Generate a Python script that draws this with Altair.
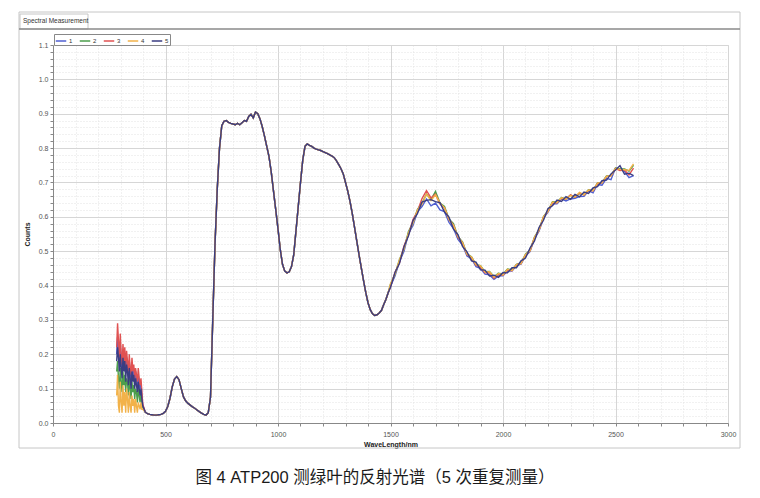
import altair as alt
import pandas as pd

series_names = ["1", "2", "3", "4", "5"]
series_colors = ["#4f5fd2", "#4c9e4c", "#e05252", "#f2b24a", "#3a3d82"]

# wavelength grids (nm)
uv_wl = list(range(283, 400, 4))
mid_wl = list(range(410, 1500, 10))
nir_wl = list(range(1500, 2600, 20))

# noisy UV part, one list per measurement
uv_1 = [0.20, 0.25, 0.22, 0.18, 0.23, 0.19, 0.16, 0.21, 0.17, 0.20, 0.15, 0.19, 0.17, 0.14, 0.18,
        0.15, 0.13, 0.17, 0.14, 0.16, 0.12, 0.15, 0.13, 0.11, 0.14, 0.12, 0.10, 0.12, 0.08, 0.05]
uv_2 = [0.15, 0.18, 0.13, 0.10, 0.16, 0.12, 0.09, 0.15, 0.11, 0.14, 0.09, 0.13, 0.12, 0.08, 0.13,
        0.10, 0.07, 0.12, 0.09, 0.11, 0.07, 0.10, 0.09, 0.06, 0.10, 0.08, 0.06, 0.09, 0.06, 0.045]
uv_3 = [0.22, 0.29, 0.24, 0.19, 0.26, 0.20, 0.17, 0.23, 0.18, 0.22, 0.16, 0.21, 0.18, 0.15, 0.20,
        0.16, 0.14, 0.19, 0.15, 0.17, 0.13, 0.16, 0.14, 0.12, 0.16, 0.13, 0.11, 0.13, 0.09, 0.055]
uv_4 = [0.08, 0.14, 0.05, 0.03, 0.12, 0.06, 0.03, 0.11, 0.05, 0.09, 0.03, 0.10, 0.07, 0.03, 0.09,
        0.05, 0.03, 0.08, 0.05, 0.07, 0.03, 0.07, 0.05, 0.03, 0.06, 0.05, 0.04, 0.06, 0.04, 0.04]
uv_5 = [0.18, 0.22, 0.19, 0.15, 0.20, 0.16, 0.13, 0.19, 0.15, 0.18, 0.12, 0.17, 0.15, 0.11, 0.16,
        0.13, 0.10, 0.15, 0.12, 0.14, 0.10, 0.13, 0.11, 0.09, 0.12, 0.10, 0.08, 0.10, 0.07, 0.05]

# visible / NIR part where the five measurements coincide (410..1490 nm)
mid_vals = [
    0.032, 0.027, 0.025, 0.024, 0.023, 0.023, 0.024, 0.025, 0.028, 0.034,
    0.048, 0.072, 0.105, 0.128, 0.135, 0.126, 0.100, 0.076, 0.064, 0.057,
    0.052, 0.047, 0.043, 0.038, 0.033, 0.029, 0.025, 0.023, 0.030, 0.075,
    0.300, 0.520, 0.680, 0.800, 0.865, 0.878, 0.880, 0.875, 0.872, 0.870,
    0.868, 0.872, 0.868, 0.874, 0.880, 0.878, 0.892, 0.898, 0.888, 0.905,
    0.900, 0.885, 0.862, 0.835, 0.805, 0.775, 0.730, 0.675, 0.620, 0.565,
    0.505, 0.462, 0.442, 0.437, 0.440, 0.455, 0.490, 0.560, 0.630, 0.700,
    0.765, 0.805, 0.812, 0.808, 0.805, 0.800, 0.797, 0.795, 0.793, 0.790,
    0.787, 0.784, 0.780, 0.777, 0.772, 0.763, 0.752, 0.740, 0.725, 0.700,
    0.675, 0.645, 0.610, 0.570, 0.530, 0.490, 0.452, 0.415, 0.380, 0.350,
    0.330, 0.318, 0.313, 0.315, 0.320, 0.328, 0.345, 0.360, 0.380,
]

# SWIR part (1500..2580 nm), one list per measurement
nir_1 = [0.398, 0.428, 0.470, 0.500, 0.552, 0.575, 0.615, 0.630, 0.652, 0.632, 0.640, 0.620, 0.615, 0.584,
         0.566, 0.534, 0.518, 0.486, 0.478, 0.455, 0.450, 0.433, 0.431, 0.418, 0.428, 0.428, 0.443, 0.442,
         0.458, 0.462, 0.486, 0.499, 0.536, 0.558, 0.596, 0.614, 0.638, 0.638, 0.652, 0.646, 0.652, 0.654,
         0.659, 0.660, 0.676, 0.670, 0.694, 0.692, 0.712, 0.708, 0.742, 0.738, 0.732, 0.714, 0.720]
nir_2 = [0.404, 0.433, 0.476, 0.507, 0.557, 0.583, 0.622, 0.640, 0.666, 0.650, 0.674, 0.640, 0.630, 0.594,
         0.580, 0.542, 0.527, 0.492, 0.484, 0.461, 0.458, 0.440, 0.441, 0.426, 0.436, 0.433, 0.448, 0.446,
         0.462, 0.466, 0.491, 0.503, 0.541, 0.563, 0.601, 0.618, 0.644, 0.643, 0.656, 0.652, 0.663, 0.657,
         0.668, 0.665, 0.679, 0.677, 0.699, 0.700, 0.719, 0.720, 0.742, 0.740, 0.739, 0.733, 0.750]
nir_3 = [0.396, 0.439, 0.466, 0.515, 0.548, 0.592, 0.616, 0.653, 0.676, 0.655, 0.666, 0.637, 0.626, 0.592,
         0.576, 0.540, 0.524, 0.490, 0.481, 0.459, 0.454, 0.437, 0.438, 0.421, 0.433, 0.430, 0.445, 0.443,
         0.461, 0.464, 0.489, 0.501, 0.539, 0.561, 0.599, 0.616, 0.641, 0.641, 0.654, 0.651, 0.664, 0.657,
         0.669, 0.664, 0.677, 0.676, 0.697, 0.699, 0.717, 0.719, 0.740, 0.735, 0.736, 0.722, 0.742]
nir_4 = [0.405, 0.433, 0.475, 0.506, 0.554, 0.581, 0.620, 0.637, 0.666, 0.647, 0.664, 0.640, 0.626, 0.592,
         0.575, 0.542, 0.525, 0.491, 0.483, 0.461, 0.457, 0.439, 0.440, 0.424, 0.435, 0.431, 0.447, 0.444,
         0.461, 0.464, 0.490, 0.501, 0.540, 0.561, 0.600, 0.616, 0.643, 0.641, 0.655, 0.651, 0.662, 0.658,
         0.671, 0.664, 0.678, 0.676, 0.698, 0.699, 0.718, 0.719, 0.741, 0.738, 0.737, 0.735, 0.754]
nir_5 = [0.395, 0.438, 0.465, 0.513, 0.545, 0.589, 0.610, 0.643, 0.648, 0.650, 0.644, 0.641, 0.614, 0.599,
         0.564, 0.548, 0.514, 0.498, 0.472, 0.468, 0.446, 0.445, 0.428, 0.430, 0.424, 0.438, 0.437, 0.452,
         0.452, 0.472, 0.480, 0.509, 0.530, 0.569, 0.590, 0.624, 0.632, 0.649, 0.645, 0.659, 0.651, 0.665,
         0.658, 0.672, 0.668, 0.684, 0.688, 0.705, 0.707, 0.725, 0.736, 0.749, 0.724, 0.727, 0.720]

x_ticks = list(range(0, 3001, 100))
y_ticks = [round(i * 0.02, 2) for i in range(56)]

uv_all = [uv_1, uv_2, uv_3, uv_4, uv_5]
nir_all = [nir_1, nir_2, nir_3, nir_4, nir_5]
assert len(mid_vals) == len(mid_wl), (len(mid_vals), len(mid_wl))
rows = []
for name, uv, nir in zip(series_names, uv_all, nir_all):
    assert len(uv) == len(uv_wl) and len(nir) == len(nir_wl)
    wl = uv_wl + mid_wl + nir_wl
    vals = uv + mid_vals + nir
    for i, (w, v) in enumerate(zip(wl, vals)):
        rows.append({"series": name, "wl": w, "counts": v, "idx": i})
df = pd.DataFrame(rows)

FONT = "Liberation Sans"
xscale = alt.Scale(domain=[0, 3000], nice=False, zero=False)
yscale = alt.Scale(domain=[0, 1.1], nice=False)

x_major = "datum.value % 500 === 0"
y_major = "abs(datum.value * 10 - round(datum.value * 10)) < 0.001"

x_axis = alt.Axis(
    values=x_ticks, title="WaveLength/nm", format="d",
    labelExpr=f"{x_major} ? datum.label : ''", labelOverlap=False, labelFlush=False,
    gridDash={"condition": {"test": x_major, "value": []}, "value": [1, 2]},
    gridColor={"condition": {"test": x_major, "value": "#d6d6d6"}, "value": "#e2e2e2"},
    tickSize=3, tickColor="#888", domainColor="#888", labelColor="#555",
    labelFontSize=7, labelFont=FONT, labelPadding=4,
    titleFontSize=7, titleFont=FONT, titleFontWeight="bold", titleColor="#222",
    titlePadding=3,
)
y_axis = alt.Axis(
    values=y_ticks, title="Counts",
    labelExpr=f"{y_major} ? format(datum.value, '.1f') : ''", labelOverlap=False, labelFlush=False,
    gridDash={"condition": {"test": y_major, "value": []}, "value": [1, 2]},
    gridColor={"condition": {"test": y_major, "value": "#d6d6d6"}, "value": "#e2e2e2"},
    tickSize=3, tickColor="#888", domainColor="#888", labelColor="#555",
    labelFontSize=7, labelFont=FONT, labelPadding=2,
    titleFontSize=7, titleFont=FONT, titleFontWeight="bold", titleColor="#222",
    titlePadding=8,
)

lines = alt.Chart(df).mark_line(strokeWidth=1.4).encode(
    x=alt.X("wl:Q", scale=xscale, axis=x_axis),
    y=alt.Y("counts:Q", scale=yscale, axis=y_axis),
    color=alt.Color(
        "series:N",
        scale=alt.Scale(domain=series_names, range=series_colors),
        legend=alt.Legend(
            orient="none", legendX=1, legendY=-11, direction="horizontal", title=None,
            symbolType="stroke", symbolSize=110, symbolStrokeWidth=1.5,
            labelFontSize=6, labelFont=FONT, labelColor="#333", labelOffset=2,
            strokeColor="#888", padding=1, columnPadding=3, rowPadding=0,
        ),
    ),
    order="idx:Q",
)

one = pd.DataFrame({"k": [0]})
frame = alt.Chart(one).mark_rect(fillOpacity=0, stroke="#c6c6c6", strokeWidth=1).encode(
    x=alt.value(-34), x2=alt.value(687), y=alt.value(-33), y2=alt.value(403)
)
tab_line = alt.Chart(one).mark_rule(color="#8a8a8a", strokeWidth=1.5).encode(
    x=alt.value(-34), x2=alt.value(687), y=alt.value(-16)
)
tab_box = alt.Chart(one).mark_rect(fillOpacity=0, stroke="#c6c6c6", strokeWidth=1).encode(
    x=alt.value(-33), x2=alt.value(35), y=alt.value(-31), y2=alt.value(-16)
)
tab_text = alt.Chart(one).mark_text(
    text="Spectral Measurement", align="left", baseline="middle", fontSize=6.5, font=FONT, color="#333"
).encode(x=alt.value(-30), y=alt.value(-24))
caption = alt.Chart(one).mark_text(
    text="图 4 ATP200 测绿叶的反射光谱（5 次重复测量）", align="center", baseline="middle",
    fontSize=16.5, font="'Liberation Sans', 'Noto Sans CJK SC'", color="#1a1a1a"
).encode(x=alt.value(322), y=alt.value(433))

chart = alt.layer(frame, tab_box, tab_line, tab_text, lines, caption).properties(
    width=675, height=378,
    autosize=alt.AutoSizeParams(type="none"),
    padding={"left": 45, "top": 37, "right": 24, "bottom": 67},
).configure_view(stroke="#b0b0b0", strokeWidth=1).configure(background="white")

chart.save("out.html", embed_options={"renderer": "svg", "actions": False})
